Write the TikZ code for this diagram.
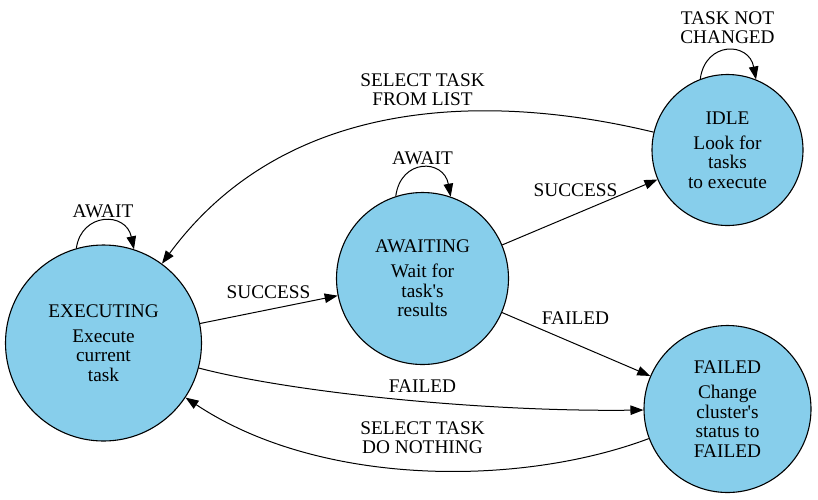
\documentclass[tikz,border=0pt]{standalone}
\usepackage{fontspec}
\setmainfont{Liberation Serif}
\usetikzlibrary{arrows.meta}
\definecolor{nodefill}{HTML}{87CEEB}
\tikzset{
  state/.style={circle, draw=black, line width=1.1pt, fill=nodefill, inner sep=0pt,
    align=center, font=\fontsize{19.3}{19.5}\selectfont},
  edge/.style={line width=1pt, -{Triangle[length=13pt,width=9.5pt]}},
  lbl/.style={font=\fontsize{19.3}{19}\selectfont, align=center, inner sep=0pt},
}
\begin{document}
\begin{tikzpicture}[x=1pt,y=-1pt]
\useasboundingbox (0,0) rectangle (818,499);
% states
\node[state, minimum size=196pt] (exec) at (103.5,343)
  {EXECUTING\\[5.5pt]Execute\\current\\task};
\node[state, minimum size=172pt] (await) at (422.5,278.5)
  {AWAITING\\[5.5pt]Wait for\\task\textquotesingle s\\results};
\node[state, minimum size=151pt] (idle) at (727.5,150)
  {IDLE\\[5.5pt]Look for\\tasks\\to execute};
\node[state, minimum size=167pt] (failed) at (727.5,409)
  {FAILED\\[5.5pt]Change\\cluster\textquotesingle s\\status to\\FAILED};
% self loops
\draw[edge] (exec.106) .. controls +(5,-36) and +(-8,-38) .. (exec.72);
\draw[edge] (await.108) .. controls +(5,-38) and +(-7,-38) .. (await.71);
\draw[edge] (idle.111) .. controls +(5,-38) and +(-7,-38) .. (idle.68);
% transitions
\draw[edge] (exec) -- (await);
\draw[edge] (await) -- (idle);
\draw[edge] (await) -- (failed);
\draw[edge] (exec) .. controls (290,392) and (480,412) .. (failed);
\draw[edge] (failed) .. controls (520,487) and (320,487) .. (exec);
\draw[edge] (idle) .. controls (500,95) and (290,90) .. (exec);
% labels
\node[lbl] (l1) at (103,211) {AWAIT};
\node[lbl] (l2) at (422.5,158) {AWAIT};
\node[lbl] (l3) at (727.5,27.5) {TASK NOT\\CHANGED};
\node[lbl] (l4) at (268.5,292) {SUCCESS};
\node[lbl] (l5) at (575.5,190.5) {SUCCESS};
\node[lbl] (l6) at (575.5,318.5) {FAILED};
\node[lbl] (l7) at (422.5,386.5) {FAILED};
\node[lbl] (l8) at (422.5,437.5) {SELECT TASK\\DO NOTHING};
\node[lbl] (l9) at (422.5,89.5) {SELECT TASK\\FROM LIST};
\end{tikzpicture}
\end{document}
